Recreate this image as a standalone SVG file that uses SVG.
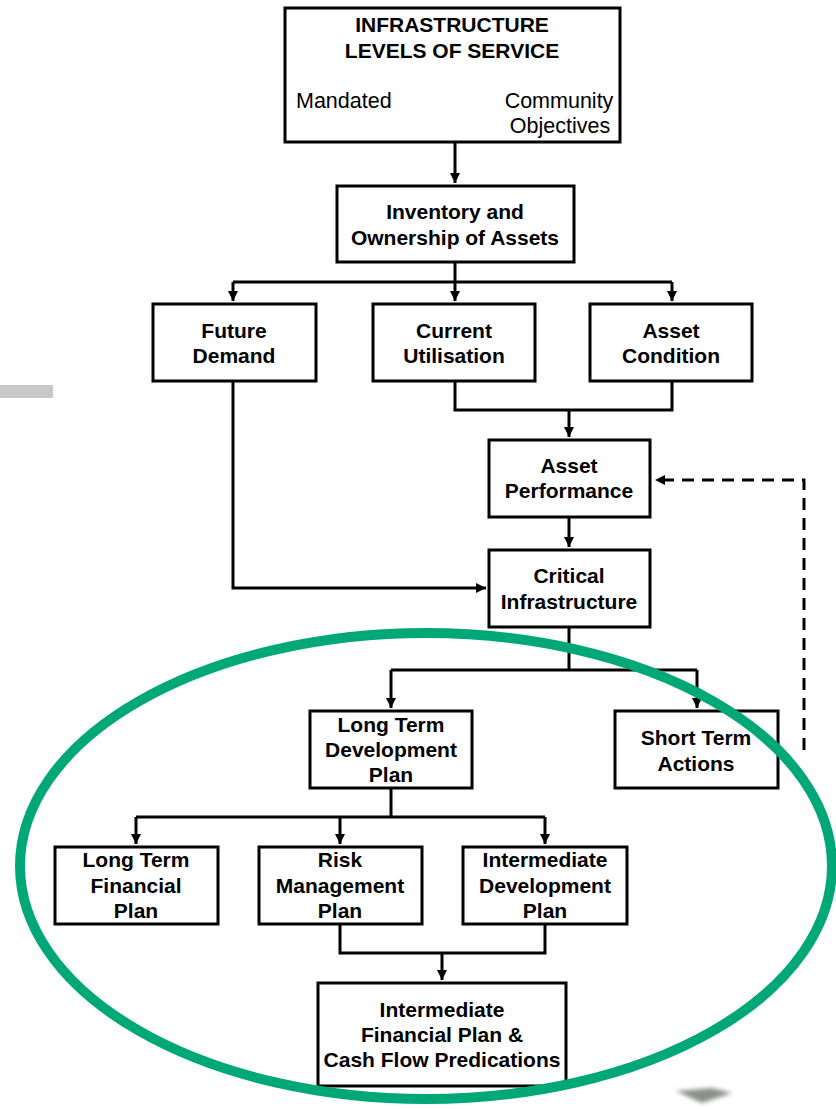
<svg xmlns="http://www.w3.org/2000/svg" width="836" height="1109" viewBox="0 0 836 1109">
  <style>
    .box { fill: #ffffff; stroke: #000000; stroke-width: 3; }
    .t { font-family: "Liberation Sans", Arial, sans-serif; font-size: 21px; font-weight: bold; fill: #000000; text-anchor: middle; }
    .r { font-family: "Liberation Sans", Arial, sans-serif; font-size: 21.5px; fill: #000000; }
    .link { fill: none; stroke: #000000; stroke-width: 3; }
    .dash { fill: none; stroke: #000000; stroke-width: 3; stroke-dasharray: 12 8; }
  </style>
  <defs>
    <marker id="arrow" markerUnits="userSpaceOnUse" markerWidth="12" markerHeight="12" refX="10" refY="5" orient="auto">
      <path d="M0,0 L10,5 L0,10 Z" fill="#000000"/>
    </marker>
    <filter id="soft" x="-20%" y="-50%" width="140%" height="200%">
      <feGaussianBlur stdDeviation="2"/>
    </filter>
  </defs>

  <rect width="836" height="1109" fill="#ffffff"/>

  <!-- grey bar at the left margin -->
  <rect x="0" y="385" width="53" height="13" fill="#c8c8c8"/>

  <!-- connectors -->
  <g id="connectors">
    <path class="link" d="M455,142 V183" marker-end="url(#arrow)"/>
    <path class="link" d="M455,262 V282 M233,282 H672"/>
    <path class="link" d="M233,282 V301" marker-end="url(#arrow)"/>
    <path class="link" d="M455,282 V301" marker-end="url(#arrow)"/>
    <path class="link" d="M672,282 V301" marker-end="url(#arrow)"/>
    <path class="link" d="M455,381 V410 H672 V381"/>
    <path class="link" d="M569,410 V437" marker-end="url(#arrow)"/>
    <path class="link" d="M569,517 V547" marker-end="url(#arrow)"/>
    <path class="link" d="M233,381 V588 H486" marker-end="url(#arrow)"/>
    <path class="link" d="M569,627 V670 M391,670 H697"/>
    <path class="link" d="M391,670 V708" marker-end="url(#arrow)"/>
    <path class="link" d="M697,670 V708" marker-end="url(#arrow)"/>
    <path class="dash" d="M804,750 V480 H655" marker-end="url(#arrow)"/>
    <path class="link" d="M391,788 V817 M136,817 H545"/>
    <path class="link" d="M136,817 V844" marker-end="url(#arrow)"/>
    <path class="link" d="M340,817 V844" marker-end="url(#arrow)"/>
    <path class="link" d="M545,817 V844" marker-end="url(#arrow)"/>
    <path class="link" d="M340,924 V953 H545 V924"/>
    <path class="link" d="M442,953 V980" marker-end="url(#arrow)"/>
  </g>

  <!-- nodes -->
  <g id="levels-of-service">
    <rect class="box" x="285" y="8" width="335" height="134"/>
    <text class="t" x="452" y="32">INFRASTRUCTURE</text>
    <text class="t" x="452" y="58">LEVELS OF SERVICE</text>
    <text class="r" x="296" y="108">Mandated</text>
    <text class="r" x="559" y="108" text-anchor="middle">Community</text>
    <text class="r" x="560" y="133" text-anchor="middle">Objectives</text>
  </g>

  <g id="inventory">
    <rect class="box" x="337" y="186" width="237" height="76"/>
    <text class="t" x="455" y="219">Inventory and</text>
    <text class="t" x="455" y="245">Ownership of Assets</text>
  </g>

  <g id="future-demand">
    <rect class="box" x="153" y="304" width="163" height="77"/>
    <text class="t" x="234" y="338">Future</text>
    <text class="t" x="234" y="363">Demand</text>
  </g>

  <g id="current-utilisation">
    <rect class="box" x="373" y="304" width="162" height="77"/>
    <text class="t" x="454" y="338">Current</text>
    <text class="t" x="454" y="363">Utilisation</text>
  </g>

  <g id="asset-condition">
    <rect class="box" x="590" y="304" width="162" height="77"/>
    <text class="t" x="671" y="338">Asset</text>
    <text class="t" x="671" y="363">Condition</text>
  </g>

  <g id="asset-performance">
    <rect class="box" x="489" y="440" width="161" height="77"/>
    <text class="t" x="569" y="473">Asset</text>
    <text class="t" x="569" y="498">Performance</text>
  </g>

  <g id="critical-infrastructure">
    <rect class="box" x="489" y="550" width="161" height="77"/>
    <text class="t" x="569" y="583">Critical</text>
    <text class="t" x="569" y="609">Infrastructure</text>
  </g>

  <g id="long-term-development">
    <rect class="box" x="310" y="711" width="162" height="77"/>
    <text class="t" x="391" y="732">Long Term</text>
    <text class="t" x="391" y="757">Development</text>
    <text class="t" x="391" y="782">Plan</text>
  </g>

  <g id="short-term-actions">
    <rect class="box" x="615" y="711" width="163" height="77"/>
    <text class="t" x="696" y="745">Short Term</text>
    <text class="t" x="696" y="771">Actions</text>
  </g>

  <g id="long-term-financial">
    <rect class="box" x="55" y="847" width="163" height="77"/>
    <text class="t" x="136" y="867">Long Term</text>
    <text class="t" x="136" y="893">Financial</text>
    <text class="t" x="136" y="918">Plan</text>
  </g>

  <g id="risk-management">
    <rect class="box" x="259" y="847" width="163" height="77"/>
    <text class="t" x="340" y="867">Risk</text>
    <text class="t" x="340" y="893">Management</text>
    <text class="t" x="340" y="918">Plan</text>
  </g>

  <g id="intermediate-development">
    <rect class="box" x="463" y="847" width="164" height="77"/>
    <text class="t" x="545" y="867">Intermediate</text>
    <text class="t" x="545" y="893">Development</text>
    <text class="t" x="545" y="918">Plan</text>
  </g>

  <g id="intermediate-financial">
    <rect class="box" x="318" y="983" width="248" height="103"/>
    <text class="t" x="442" y="1017">Intermediate</text>
    <text class="t" x="442" y="1042">Financial Plan &amp;</text>
    <text class="t" x="442" y="1067">Cash Flow Predications</text>
  </g>

  <!-- green outline around the planning stage -->
  <ellipse cx="426" cy="866" rx="406" ry="233" fill="none" stroke="#00a878" stroke-width="10"/>

  <!-- small dark smudge at the lower right -->
  <path d="M676,1091 L712,1088 L732,1093 L702,1103 Z" fill="#3a4a38" opacity="0.6" filter="url(#soft)"/>
</svg>
